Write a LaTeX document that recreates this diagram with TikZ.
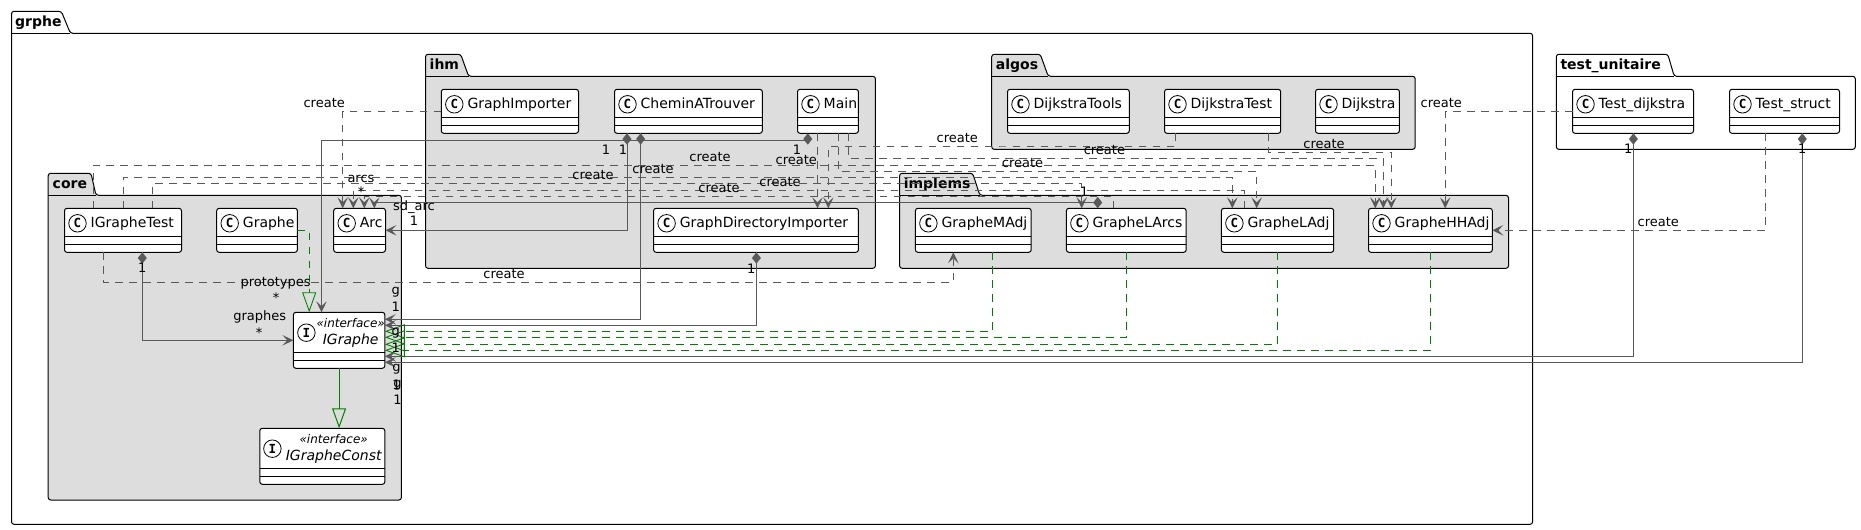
\documentclass[tikz,border=0pt]{standalone}
\usepackage{fontspec}
\setmainfont{DejaVu Sans}
\newfontfamily\iconfont{DejaVu Sans Mono}
\usetikzlibrary{arrows.meta}
\definecolor{linkgray}{HTML}{595959}
\definecolor{linkgreen}{HTML}{008000}
\definecolor{packgray}{HTML}{DDDDDD}
\tikzset{
  packbox/.style={draw=black,line width=1pt,rounded corners=2.5pt},
  packtitle/.style={anchor=base west,inner sep=0pt,font=\fontsize{14}{16}\selectfont\bfseries},
  classbox/.style={draw=black,fill=white,line width=1pt,rounded corners=2.5pt,inner sep=0pt,outer sep=0pt},
  classicon/.style={draw=black,fill=white,line width=0.8pt,circle,minimum size=17.5pt,inner sep=0pt,font=\fontsize{12.5}{12.5}\selectfont\iconfont\bfseries},
  classname/.style={anchor=base west,inner sep=0pt,font=\fontsize{14}{16}\selectfont},
  ifacename/.style={anchor=base,inner sep=0pt,font=\fontsize{14}{16}\selectfont\itshape},
  ifacetag/.style={anchor=base,inner sep=0pt,font=\fontsize{12}{14}\selectfont\itshape},
  linklabel/.style={anchor=base,inner sep=0pt,font=\fontsize{13}{15}\selectfont},
  deplink/.style={linkgray,line width=0.85pt,dash pattern=on 7.5pt off 6.5pt,-{Stealth[length=11pt,width=10.5pt,inset=5pt]}},
  complink/.style={linkgray,line width=0.9pt,-{Stealth[length=11pt,width=10.5pt,inset=5pt]}},
  impllink/.style={linkgreen,line width=0.85pt,dash pattern=on 7.5pt off 6.5pt,-{Triangle[open,length=20pt,width=14pt]}},
  extlink/.style={linkgreen,line width=1pt,-{Triangle[open,length=20pt,width=14pt]}}
}
% id, left, right, top, name
\newcommand{\umlclass}[5]{
  \node[classbox,minimum width={#3pt-#2pt},minimum height=44pt] (#1) at ({(#2+#3)/2},{#4+22}) {};
  \draw[black,line width=1pt] ([yshift=-28pt]#1.north west) -- ([yshift=-28pt]#1.north east);
  \draw[black,line width=1pt] ([yshift=-36pt]#1.north west) -- ([yshift=-36pt]#1.north east);
  \node[classicon] (#1icon) at ([xshift=13pt,yshift=-15pt]#1.north west) {C};
  \node[classname] (#1name) at ([xshift=26pt,yshift=-19pt]#1.north west) {#5};
}
% id, left, right, top, name, icon x offset, text x offset
\newcommand{\umliface}[7]{
  \node[classbox,minimum width={#3pt-#2pt},minimum height=56pt] (#1) at ({(#2+#3)/2},{#4+28}) {};
  \draw[black,line width=1pt] ([yshift=-40pt]#1.north west) -- ([yshift=-40pt]#1.north east);
  \draw[black,line width=1pt] ([yshift=-48pt]#1.north west) -- ([yshift=-48pt]#1.north east);
  \node[classicon] (#1icon) at ([xshift=#6pt,yshift=-20.4pt]#1.north west) {I};
  \node[ifacetag] (#1tag) at ([xshift=#7pt,yshift=-15.5pt]#1.north west) {«interface»};
  \node[ifacename] (#1name) at ([xshift=#7pt,yshift=-32pt]#1.north west) {#5};
}
\newcommand{\compmark}[1]{\fill[linkgray] (#1) -- ++(4.5,5.7) -- ++(-4.5,5.7) -- ++(-4.5,-5.7) -- cycle;}
\begin{document}
\begin{tikzpicture}[x=1pt,y=-1pt]
\useasboundingbox (0,0) rectangle (1861,530);
\fill[white] (0,0) rectangle (1861,530);
\draw[packbox,fill=white] (11.5,524.3) -- (11.5,11.3) -- (61.3,11.3) -- (70.4,33.3) -- (1532.6,33.3) -- (1532.6,524.3) -- cycle;
\draw[black,line width=1pt] (11.5,33.3) -- (70.4,33.3);
\node[packtitle] (grphetitle) at (15,26) {grphe};
\draw[packbox,fill=packgray] (425.5,268.3) -- (425.5,54.3) -- (460.7,54.3) -- (468.6,76.3) -- (875.4,76.3) -- (875.4,268.3) -- cycle;
\draw[black,line width=1pt] (425.5,76.3) -- (468.6,76.3);
\node[packtitle] (ihmtitle) at (429.5,69) {ihm};
\draw[packbox,fill=packgray] (48.2,500) -- (48.2,173.3) -- (91,173.3) -- (96,195.3) -- (401.4,195.3) -- (401.4,500) -- cycle;
\draw[black,line width=1pt] (48.2,195.3) -- (96,195.3);
\node[packtitle] (coretitle) at (52.5,188) {core};
\draw[packbox,fill=packgray] (991.7,149.3) -- (991.7,54.3) -- (1040.3,54.3) -- (1048.2,76.3) -- (1415.2,76.3) -- (1415.2,149.3) -- cycle;
\draw[black,line width=1pt] (991.7,76.3) -- (1048.2,76.3);
\node[packtitle] (algostitle) at (995.7,69) {algos};
\draw[packbox,fill=packgray] (899.6,268.3) -- (899.6,173.3) -- (972.7,173.3) -- (979.8,195.3) -- (1508.5,195.3) -- (1508.5,268.3) -- cycle;
\draw[black,line width=1pt] (899.6,195.3) -- (979.8,195.3);
\node[packtitle] (implemstitle) at (903.6,188) {implems};
\draw[packbox,fill=white] (1556.3,149.3) -- (1556.3,54.3) -- (1667.8,54.3) -- (1674.2,76.3) -- (1855.3,76.3) -- (1855.3,149.3) -- cycle;
\draw[black,line width=1pt] (1556.3,76.3) -- (1674.2,76.3);
\node[packtitle] (testtitle) at (1560.3,69) {test\_unitaire};
\umlclass{graphimporter}{441.3}{578.5}{89.3}{GraphImporter}
\umlclass{cheminatrouver}{614.5}{762.3}{89.3}{CheminATrouver}
\umlclass{main}{797.5}{858.4}{89.3}{Main}
\umlclass{dijkstratools}{1007.5}{1129.3}{89.3}{DijkstraTools}
\umlclass{dijkstratest}{1164.5}{1280.7}{89.3}{DijkstraTest}
\umlclass{dijkstra}{1315.5}{1399.4}{89.3}{Dijkstra}
\umlclass{testdijkstra}{1572.5}{1693.5}{89.3}{Test\_dijkstra}
\umlclass{teststruct}{1729.5}{1839.5}{89.3}{Test\_struct}
\umlclass{igraphetest}{64.5}{181.5}{208.3}{IGrapheTest}
\umlclass{graphe}{216.7}{297.4}{208.3}{Graphe}
\umlclass{arc}{333.7}{385.5}{208.3}{Arc}
\umlclass{graphdirimporter}{653.6}{858.4}{208.3}{GraphDirectoryImporter}
\umlclass{graphemadj}{915.4}{1031.2}{208.3}{GrapheMAdj}
\umlclass{graphelarcs}{1066.4}{1186.2}{208.3}{GrapheLArcs}
\umlclass{grapheladj}{1221.4}{1333.7}{208.3}{GrapheLAdj}
\umlclass{graphehhadj}{1368.5}{1492.3}{208.3}{GrapheHHAdj}
\umliface{igraphe}{293.4}{384.8}{312.3}{IGraphe}{13}{57.3}
\umliface{igrapheconst}{259.8}{384.8}{428.3}{IGrapheConst}{12.6}{73.9}
% create
\draw[deplink] (graphimporter.west) -| ([xshift=9pt]arc.north west);
\draw[deplink] (testdijkstra.west) -| ([xshift=76.7pt]graphehhadj.north west);
\draw[deplink] ([xshift=36pt]teststruct.south west) |- (graphehhadj.east);
\draw[deplink] ([xshift=20pt]main.south west) -- ([xshift=163.9pt]graphdirimporter.north west);
\draw[deplink] ([xshift=40.8pt]main.south west) |- (1000,171.3) -| ([xshift=35.3pt]grapheladj.north west);
\draw[deplink] ([xshift=50.8pt]main.south west) |- (1000,158.3) -| ([xshift=14.8pt]graphehhadj.north west);
\draw[deplink] ([xshift=11.2pt]dijkstratest.south west) |- (1000,146) -| ([xshift=174.7pt]graphdirimporter.north west);
\draw[deplink] ([xshift=104.2pt]dijkstratest.south west) |- (1300,152.3) -| ([xshift=22.8pt]graphehhadj.north west);
\draw[deplink] ([xshift=28.8pt]igraphetest.north west) |- (700,165.3) -| ([xshift=6.8pt]graphehhadj.north west);
\draw[deplink] ([xshift=58.9pt]igraphetest.north west) |- (700,177.3) -| ([xshift=10.9pt]grapheladj.north west);
\draw[deplink] ([xshift=87.7pt]igraphetest.north west) |- (700,183.3) -| ([xshift=15.3pt]graphelarcs.north west);
\draw[deplink] ([xshift=38.7pt]igraphetest.south west) |- (500,282.3) -| ([xshift=37.9pt]graphemadj.south west);
\draw[deplink] ([xshift=22.9pt]grapheladj.north west) |- (700,190.3) -| ([xshift=19.6pt]arc.north west);
\draw[deplink] ([xshift=46.9pt]graphelarcs.north west) |- (700,196.3) -| ([xshift=30.6pt]arc.north west);
% composition
\draw[complink] ([xshift=31.3pt,yshift=6.3pt]graphelarcs.north west) -| ([xshift=40.6pt]arc.north west);
\draw[complink] ([xshift=10.3pt,yshift=-6.7pt]main.south west) -| ([xshift=28.1pt]igraphe.north west);
\draw[complink] ([xshift=12.5pt]cheminatrouver.south west) |- (arc.east);
\draw[complink] ([xshift=26.1pt]cheminatrouver.south west) |- ([yshift=-7pt]igraphe.north east);
\draw[complink] ([xshift=102.8pt]graphdirimporter.south west) |- ([yshift=-13pt]igraphe.north east);
\draw[complink] ([xshift=60.9pt]testdijkstra.south west) |- ([yshift=-44pt]igraphe.north east);
\draw[complink] ([xshift=72.8pt]teststruct.south west) |- ([yshift=-50pt]igraphe.north east);
\draw[complink] ([xshift=77.8pt]igraphetest.south west) |- (igraphe.west);
\compmark{[xshift=31.3pt,yshift=11.4pt]graphelarcs.north west}
\compmark{[xshift=10.3pt]main.south west}
\compmark{[xshift=12.5pt]cheminatrouver.south west}
\compmark{[xshift=26.1pt]cheminatrouver.south west}
\compmark{[xshift=102.8pt]graphdirimporter.south west}
\compmark{[xshift=60.9pt]testdijkstra.south west}
\compmark{[xshift=72.8pt]teststruct.south west}
\compmark{[xshift=77.8pt]igraphetest.south west}
% implements
\draw[impllink] (graphe.east) -| ([xshift=15.8pt]igraphe.north west);
\draw[impllink] ([xshift=77.1pt]graphemadj.south west) |- ([yshift=-19pt]igraphe.north east);
\draw[impllink] ([xshift=60.1pt]graphelarcs.south west) |- ([yshift=-25pt]igraphe.north east);
\draw[impllink] ([xshift=56.2pt]grapheladj.south west) |- ([yshift=-32pt]igraphe.north east);
\draw[impllink] ([xshift=62.1pt]graphehhadj.south west) |- ([yshift=-38pt]igraphe.north east);
\draw[extlink] (igraphe.south) -- (igraphe.south |- igrapheconst.north);
% labels
\foreach \n/\x/\y in {a/324.2/103,b/1441.3/103,c/1658.3/222,d/710/156.7,e/653/169,f/796.3/160.3,g/780/182,h/719/188,i/1022.5/163,j/1104.4/150.3,k/957.3/137.7,l/593/175,m/1324/143.7,n/504/273.7}
  \node[linklabel] (create\n) at (\x,\y+4.3) {create};
\node[linklabel] (arcslabel) at (361,182) {arcs};
\node[linklabel] (arcsmult) at (361,196) {*};
\node[linklabel] (sdarclabel) at (414,210.5) {sd\_arc};
\node[linklabel] (sdarcmult) at (414,225.7) {1};
\node[linklabel] (protolabel) at (275.6,286) {prototypes};
\node[linklabel] (protomult) at (276,302.7) {*};
\node[linklabel] (grapheslabel) at (259.8,320) {graphes};
\node[linklabel] (graphesmult) at (259,337.7) {*};
\foreach \n/\x/\y in {a/142.3/267.3,b/606/149,c/623/149,d/797/149,e/751.3/268,f/1084.3/191.7,g/1628.3/148.3,h/1802.3/148.3,i/395.8/306.7,j/395.8/347.7,k/396.6/384,m/397.4/399}
  \node[linklabel] (one\n) at (\x,\y+5) {1};
\foreach \n/\x/\y in {a/395.8/292.7,b/395.8/333.3,c/396.6/369.3,d/397.4/385}
  \node[linklabel] (glabel\n) at (\x,\y+2) {g};
\end{tikzpicture}
\end{document}
